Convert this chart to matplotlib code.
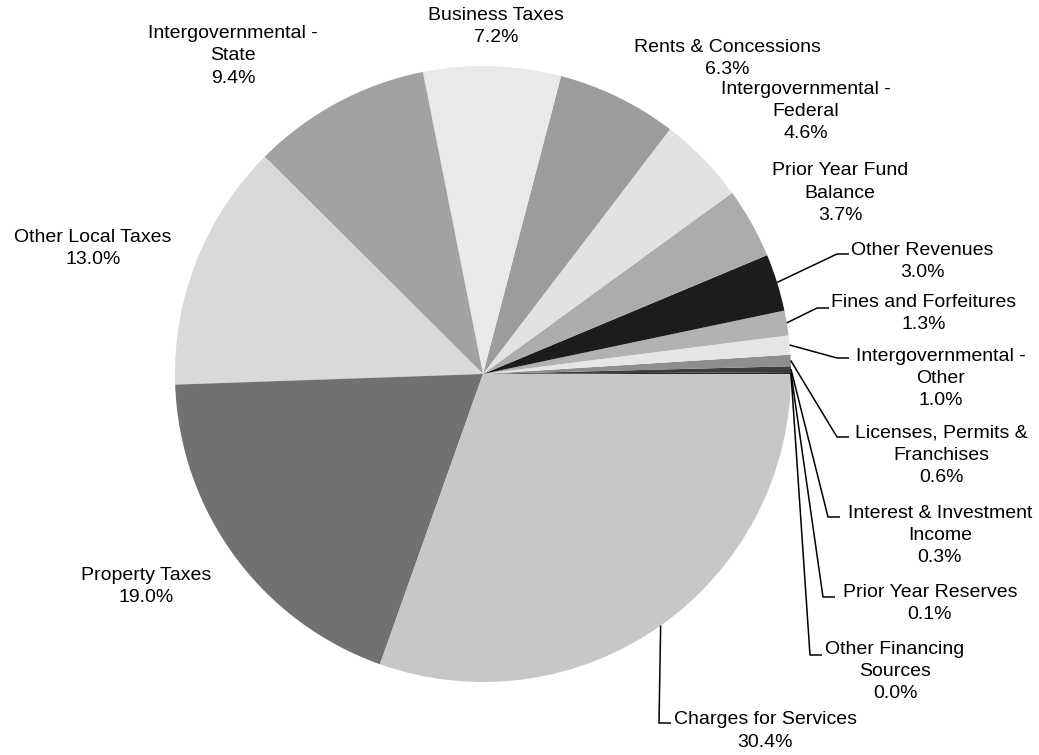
import matplotlib
matplotlib.use("Agg")
import matplotlib.pyplot as plt
import numpy as np

# ---------------- data (counter-clockwise from 3 o'clock) ----------------
categories = [
    "Other Financing\nSources",
    "Prior Year Reserves",
    "Interest & Investment\nIncome",
    "Licenses, Permits &\nFranchises",
    "Intergovernmental -\nOther",
    "Fines and Forfeitures",
    "Other Revenues",
    "Prior Year Fund\nBalance",
    "Intergovernmental -\nFederal",
    "Rents & Concessions",
    "Business Taxes",
    "Intergovernmental -\nState",
    "Other Local Taxes",
    "Property Taxes",
    "Charges for Services",
]
shares = [0.0, 0.1, 0.3, 0.6, 1.0, 1.3, 3.0, 3.7, 4.6, 6.3, 7.2, 9.4, 13.0, 19.0, 30.4]
pct_labels = ["0.0%", "0.1%", "0.3%", "0.6%", "1.0%", "1.3%", "3.0%", "3.7%",
              "4.6%", "6.3%", "7.2%", "9.4%", "13.0%", "19.0%", "30.4%"]

# ---------------- styles / layout ----------------
colors = ["#808080", "#2a2a2a", "#3c3c3c", "#8e8e8e", "#e6e6e6", "#b2b2b2",
          "#1c1c1c", "#acacac", "#e2e2e2", "#9c9c9c", "#e9e9e9", "#a2a2a2",
          "#d9d9d9", "#717171", "#c7c7c7"]

W, H = 1039, 755
center = (483, 374)
radius = 308

# label block centres (pixels) and optional leader elbow points (pixels)
label_pos = [
    (895, 671.5), (930, 603.5), (940, 535.5), (941, 455), (941, 378.5),
    (924, 313.5), (922, 261.5), (840, 193), (806, 111.5), (727, 58.5),
    (496, 26.5), (233, 56), (93, 248.5), (146, 586.5), (765, 731),
]
elbows = [
    (810, 655), (823, 597), (828, 517), (837, 437), (837, 358),
    (817, 308), (837, 254), None, None, None,
    None, None, None, None, (659, 723),
]
tick_len = 12

plt.rcParams["font.family"] = ["Liberation Sans", "DejaVu Sans"]

fig = plt.figure(figsize=(W / 100, H / 100), dpi=100)
ax = fig.add_axes([0, 0, 1, 1])

wedges, _ = ax.pie(shares, colors=colors, startangle=0, counterclock=False,
                   center=center, radius=radius,
                   wedgeprops=dict(linewidth=0, edgecolor="none"))

ax.set_xlim(0, W)
ax.set_ylim(H, 0)
ax.set_aspect("equal")
ax.axis("off")

for w, name, pct, pos, elb in zip(wedges, categories, pct_labels, label_pos, elbows):
    ax.text(pos[0], pos[1], f"{name}\n{pct}", ha="center", va="center",
            fontsize=14, linespacing=1.42, color="black")
    if elb is not None:
        mid = np.deg2rad((w.theta1 + w.theta2) / 2)
        sx = center[0] + radius * np.cos(mid)
        sy = center[1] + radius * np.sin(mid)
        ax.plot([sx, elb[0], elb[0] + tick_len], [sy, elb[1], elb[1]],
                color="black", lw=1.1, solid_capstyle="butt")

fig.savefig("out.png", dpi=100, facecolor="white")
